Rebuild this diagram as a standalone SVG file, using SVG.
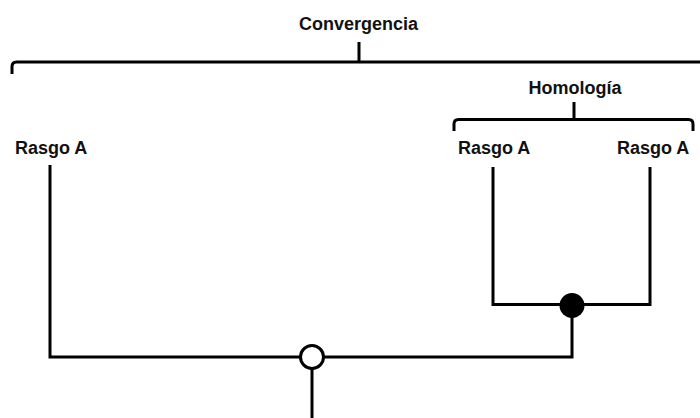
<svg xmlns="http://www.w3.org/2000/svg" width="700" height="418" viewBox="0 0 700 418">
<style>
.lbl{font-family:"Liberation Sans",Arial,sans-serif;font-weight:bold;font-size:18px;fill:#111}
.ln{fill:none;stroke:#000;stroke-width:3;stroke-linejoin:miter}
.br{fill:none;stroke:#000;stroke-width:3;stroke-linecap:butt}
</style>
<rect width="700" height="418" fill="#fff"/>
<g id="convergencia">
<path class="br" d="M12,74 V66.5 Q12,62 16.5,62 H700"/>
<path class="br" d="M359,42 V62"/>
<text class="lbl" x="358.5" y="30" text-anchor="middle">Convergencia</text>
</g>
<g id="homologia">
<path class="br" d="M454,131 V124 Q454,119.5 458.5,119.5 H688.5 Q693,119.5 693,124 V131"/>
<path class="br" d="M574,102 V120"/>
<text class="lbl" x="575" y="94" text-anchor="middle">Homología</text>
</g>
<g id="rasgo-left"><text class="lbl" x="15" y="154">Rasgo A</text></g>
<g id="rasgo-mid"><text class="lbl" x="458" y="154">Rasgo A</text></g>
<g id="rasgo-right"><text class="lbl" x="617" y="154">Rasgo A</text></g>
<g id="connectors">
<path class="ln" d="M50,165 V357 H572 V306"/>
<path class="ln" d="M493,167 V304.5 H650 V167"/>
<path class="ln" d="M312,357 V418"/>
</g>
<g id="node-open"><circle cx="312" cy="357" r="11.5" fill="#fff" stroke="#000" stroke-width="3"/></g>
<g id="node-filled"><circle cx="572" cy="305.5" r="12.5" fill="#000"/></g>
</svg>
